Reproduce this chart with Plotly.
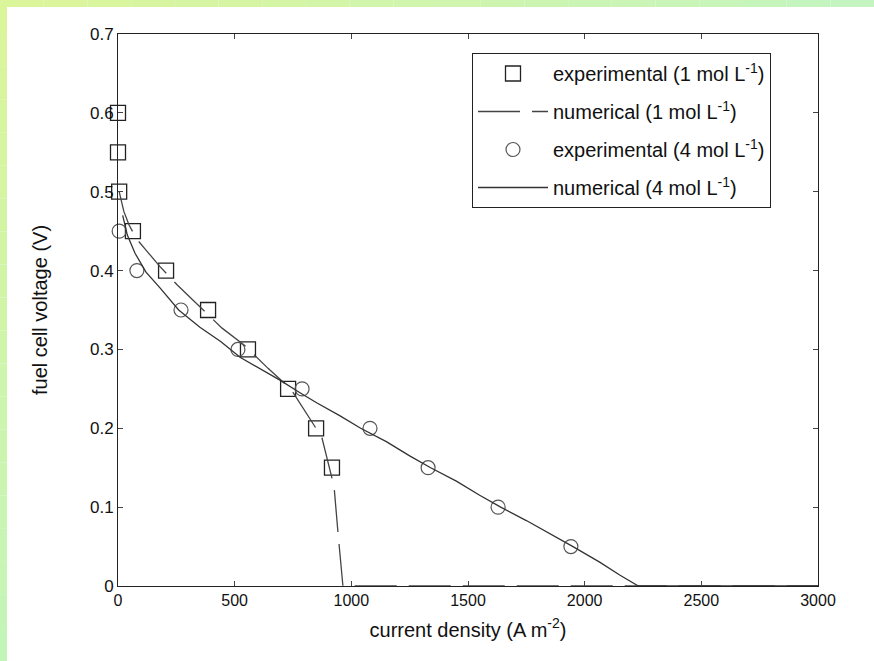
import plotly.graph_objects as go

# experimental 1 mol/L (squares)
exp1_x = [0, 0, 5, 64, 206, 386, 557, 729, 849, 917]
exp1_y = [0.60, 0.55, 0.50, 0.45, 0.40, 0.35, 0.30, 0.25, 0.20, 0.15]

# experimental 4 mol/L (circles)
exp4_x = [5, 81, 270, 514, 789, 1080, 1329, 1629, 1941]
exp4_y = [0.45, 0.40, 0.35, 0.30, 0.25, 0.20, 0.15, 0.10, 0.05]

# numerical 1 mol/L (dashed)
num1_x = [5, 25, 47, 80, 120, 180, 253, 351, 446, 543, 643, 740, 814, 853, 874,
          909, 926, 943, 964, 3000]
num1_y = [0.50, 0.475, 0.458, 0.44, 0.426, 0.405, 0.382, 0.354, 0.327, 0.305,
          0.276, 0.25, 0.217, 0.198, 0.188, 0.147, 0.126, 0.067, 0.0, 0.0]

# numerical 4 mol/L (solid)
num4_x = [20, 40, 73, 120, 180, 260, 351, 440, 523, 600, 694, 780, 853, 950, 1040,
          1150, 1250, 1340, 1450, 1550, 1640, 1750, 1850, 1950, 2066, 2150, 2230, 3000]
num4_y = [0.47, 0.445, 0.422, 0.398, 0.378, 0.35, 0.328, 0.31, 0.29, 0.277, 0.261,
          0.245, 0.232, 0.216, 0.2, 0.183, 0.165, 0.15, 0.133, 0.115, 0.1, 0.083,
          0.067, 0.05, 0.03, 0.014, 0.0, 0.0]

x_ticks = [0, 500, 1000, 1500, 2000, 2500, 3000]
y_ticks = [0, 0.1, 0.2, 0.3, 0.4, 0.5, 0.6, 0.7]
y_tick_labels = ["0", "0.1", "0.2", "0.3", "0.4", "0.5", "0.6", "0.7"]

FONT = "Liberation Sans, Arial, sans-serif"

fig = go.Figure()
fig.add_trace(go.Scatter(
    x=exp1_x, y=exp1_y, mode="markers", name="experimental (1 mol L<sup>-1</sup>)",
    marker=dict(symbol="square-open", size=15, color="#222222", line=dict(width=1.3)),
    cliponaxis=False, legendgroup="a"))
fig.add_trace(go.Scatter(
    x=num1_x, y=num1_y, mode="lines", name="numerical (1 mol L<sup>-1</sup>)",
    line=dict(color="#444444", width=1.3, dash="42px,12px"), legendgroup="b"))
fig.add_trace(go.Scatter(
    x=exp4_x, y=exp4_y, mode="markers", name="experimental (4 mol L<sup>-1</sup>)",
    marker=dict(symbol="circle-open", size=14, color="#555555", line=dict(width=1.2)),
    cliponaxis=False, legendgroup="c"))
fig.add_trace(go.Scatter(
    x=num4_x, y=num4_y, mode="lines", name="numerical (4 mol L<sup>-1</sup>)",
    line=dict(color="#333333", width=1.3), legendgroup="d"))

# background: green frame strips and white page
W, H = 874, 661
L, R, T, B = 118, 56, 34, 75
pw, ph = W - L - R, H - T - B

def px2x(p):
    return (p - L) / pw

def px2y(p):
    return (H - B - p) / ph

def lerp(c1, c2, t):
    return "#%02x%02x%02x" % tuple(int(round(a + (b - a) * t)) for a, b in zip(c1, c2))

shapes = []
c_tl = (0xdb, 0xf5, 0x9a)
c_tr = (0xc4, 0xf5, 0xc0)
c_bl = (0xc3, 0xf5, 0xb8)
n = 20
for i in range(n):
    shapes.append(dict(type="rect", xref="paper", yref="paper", layer="below",
                       x0=px2x(W * i / n), x1=px2x(W * (i + 1) / n),
                       y0=px2y(7), y1=px2y(0), line=dict(width=0),
                       fillcolor=lerp(c_tl, c_tr, i / (n - 1))))
    shapes.append(dict(type="rect", xref="paper", yref="paper", layer="below",
                       x0=px2x(0), x1=px2x(7),
                       y0=px2y(H * (i + 1) / n), y1=px2y(H * i / n), line=dict(width=0),
                       fillcolor=lerp(c_tl, c_bl, i / (n - 1))))

fig.update_layout(
    width=W, height=H,
    margin=dict(l=L, r=R, t=T, b=B, autoexpand=False),
    paper_bgcolor="white", plot_bgcolor="white",
    font=dict(family=FONT, color="#111111", size=16),
    shapes=shapes,
    showlegend=True,
    legend=dict(x=px2x(472), y=px2y(53), xanchor="left", yanchor="top",
                bgcolor="white", bordercolor="#222222", borderwidth=1,
                font=dict(size=20, family=FONT, color="#111111"),
                itemwidth=70, tracegroupgap=9, traceorder="grouped"),
    xaxis=dict(range=[0, 3000], tickvals=x_ticks, ticks="inside", ticklen=5,
               showline=True, linecolor="#222222", linewidth=1, mirror="ticks",
               showgrid=False, zeroline=False, tickfont=dict(size=16),
               title=dict(text="current density (A m<sup>-2</sup>)", font=dict(size=20),
                          standoff=14)),
    yaxis=dict(range=[0, 0.7], tickvals=y_ticks, ticktext=y_tick_labels, ticks="inside",
               ticklen=5, showline=True, linecolor="#222222", linewidth=1, mirror="ticks",
               showgrid=False, zeroline=False, tickfont=dict(size=17),
               title=dict(text="fuel cell voltage (V)", font=dict(size=20), standoff=36)),
)

fig.write_html("out.html")
